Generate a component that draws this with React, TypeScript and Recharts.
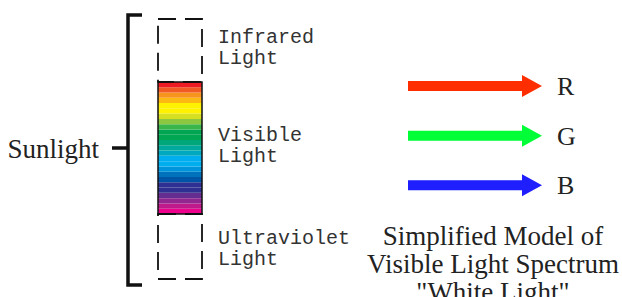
import { BarChart, Bar, XAxis, YAxis, LabelList, Cell } from 'recharts';

// spectrum stripes, listed bottom (violet end) to top (red end)
const stripeColors = [
  '#ec008c', '#c0198c', '#92278f', '#662d91', '#2e3192', '#2e3192', '#0054a6',
  '#0072bc', '#0095da', '#00aeef', '#00aeef', '#00a9c0', '#00a99d', '#00a77a',
  '#00a651', '#00a651', '#39b54a', '#8dc63f', '#d7df23', '#fff200', '#fff200',
  '#fdb913', '#f7941d', '#f15a24', '#ed1c24',
];
const stripeHeights = [1, 1, 1, 1, 1, 1, 1, 1, 1, 1, 1, 1, 1, 1, 1, 1, 1, 1, 1, 1, 1, 1, 1, 1, 1];

// the three parts of sunlight, bottom to top
const bandKeys = ['uv', 'visible', 'ir'];
const bandSizes = [12.3, 25, 11.9];
const bandLabels = [
  ['Ultraviolet', 'Light'],
  ['Visible', 'Light'],
  ['Infrared', 'Light'],
];
const wholeLabel = 'Sunlight';

const rgbNames = ['R', 'G', 'B'];
const rgbValues = [1, 1, 1];
const rgbColors = ['#ff2e00', '#00ff36', '#1e1eff'];

const captionLines = ['Simplified Model of', 'Visible Light Spectrum', '"White Light"'];

const total = bandSizes.reduce((a, b) => a + b, 0);

const spectrumRow: Record<string, any> = { name: wholeLabel, all: total };
bandKeys.forEach((k, i) => (spectrumRow[k] = bandSizes[i]));
stripeHeights.forEach((h, i) => (spectrumRow[`s${i}`] = h));
const spectrumData = [spectrumRow];

const rgbData = rgbNames.map((name, i) => ({ name, value: rgbValues[i], color: rgbColors[i] }));

const mono = "'Liberation Mono', 'DejaVu Sans Mono', monospace";
const serif = "'Liberation Serif', 'Times New Roman', serif";
const labelShift = [-3, -7, -7];

const makeBandLabel = (lines: string[], shift: number) => (props: any) => {
  const vb = props.viewBox ?? props;
  const x = vb.x + vb.width + 16;
  const y = vb.y + vb.height / 2 + shift;
  return (
    <text x={x} y={y} fontFamily={mono} fontSize={20} fill="#333">
      {lines.map((l, i) => (
        <tspan key={i} x={x} dy={i === 0 ? 0 : 21}>
          {l}
        </tspan>
      ))}
    </text>
  );
};

// bracket drawn to the left of the whole-sunlight bar
const Bracket = (props: any) => {
  const { x, y, height } = props;
  const bx = x - 30;
  const top = y - 4;
  const bottom = y + height + 6;
  const mid = y + height / 2 - 1;
  return (
    <g>
      <path
        d={`M${bx + 14},${top} H${bx} V${bottom} H${bx + 14} M${bx - 16},${mid} H${bx}`}
        fill="none"
        stroke="#111"
        strokeWidth={3.5}
        strokeLinejoin="miter"
      />
      <text x={bx - 29} y={mid + 10} textAnchor="end" fontFamily={serif} fontSize={27} fill="#222">
        {props.payload?.name}
      </text>
    </g>
  );
};

const Arrow = (props: any) => {
  const { x, y, width, height, fill } = props;
  const cy = y + height / 2;
  const head = 20;
  const shaft = 5;
  const pts = [
    [x, cy - shaft],
    [x + width - head, cy - shaft],
    [x + width - head, y],
    [x + width, cy],
    [x + width - head, y + height],
    [x + width - head, cy + shaft],
    [x, cy + shaft],
  ];
  return <polygon points={pts.map((p) => p.join(',')).join(' ')} fill={fill} />;
};

export default function App() {
  return (
    <div style={{ position: 'absolute', left: 0, top: 0, width: 622, height: 297, background: '#fff', overflow: 'hidden' }}>
      <div style={{ position: 'absolute', left: 0, top: 0 }}>
        <BarChart width={360} height={297} data={spectrumData} margin={{ top: 19, right: 0, bottom: 18, left: 0 }}>
          <XAxis dataKey="name" hide />
          <XAxis xAxisId="frame" dataKey="name" hide />
          <XAxis xAxisId="bracket" dataKey="name" hide />
          <YAxis hide type="number" domain={[0, total]} />
          <Bar dataKey="uv" stackId="spec" fill="none" barSize={44} isAnimationActive={false} />
          {stripeColors.map((c, i) => (
            <Bar key={`s${i}`} dataKey={`s${i}`} stackId="spec" fill={c} barSize={44} isAnimationActive={false} />
          ))}
          {bandKeys.map((k, i) => (
            <Bar
              key={k}
              dataKey={k}
              xAxisId="frame"
              stackId="frame"
              barSize={44}
              fill="none"
              stroke="#111"
              strokeWidth={k === 'visible' ? 1.5 : 1.8}
              strokeDasharray={k === 'visible' ? undefined : '18 9'}
              isAnimationActive={false}
            >
              <LabelList dataKey={k} content={makeBandLabel(bandLabels[i], labelShift[i])} />
            </Bar>
          ))}
          <Bar dataKey="all" xAxisId="bracket" barSize={44} shape={Bracket} isAnimationActive={false} />
        </BarChart>
      </div>
      <div style={{ position: 'absolute', left: 360, top: 0 }}>
        <BarChart layout="vertical" width={262} height={297} data={rgbData} margin={{ top: 61, right: 20, bottom: 87, left: 48 }}>
          <XAxis type="number" domain={[0, 1]} hide />
          <YAxis
            type="category"
            dataKey="name"
            orientation="right"
            width={60}
            axisLine={false}
            tickLine={false}
            tickSize={0}
            tickMargin={15}
            tick={{ fontSize: 26, fontFamily: serif, fill: '#222' }}
          />
          <Bar dataKey="value" barSize={22} shape={Arrow} isAnimationActive={false}>
            {rgbData.map((d) => (
              <Cell key={d.name} fill={d.color} />
            ))}
          </Bar>
        </BarChart>
      </div>
      <div
        style={{
          position: 'absolute',
          left: 364,
          top: 222,
          width: 258,
          textAlign: 'center',
          fontFamily: serif,
          fontSize: 27,
          lineHeight: '28px',
          color: '#222',
          whiteSpace: 'nowrap',
        }}
      >
        {captionLines.map((l) => (
          <div key={l}>{l}</div>
        ))}
      </div>
    </div>
  );
}
